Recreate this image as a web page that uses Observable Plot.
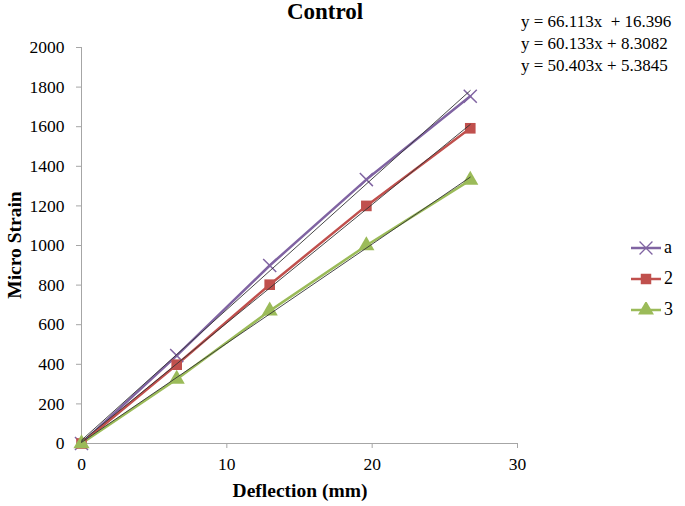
<!DOCTYPE html>
<html>
<head>
<meta charset="utf-8">
<script src="https://cdn.jsdelivr.net/npm/d3@7"></script>
<script src="https://cdn.jsdelivr.net/npm/@observablehq/plot@0.6"></script>
<style>
  html, body { margin: 0; padding: 0; background: #fff; }
  #wrap { position: relative; width: 685px; height: 506px; font-family: "Liberation Serif", "DejaVu Serif", serif; }
  #chart svg, #chart svg text, #chart svg g { font-family: "Liberation Serif", "DejaVu Serif", serif !important; font-size: 17.5px !important; }
  #title { position: absolute; left: 0; width: 650px; top: 0px; line-height: 24px; text-align: center; font-weight: bold; font-size: 23px; }
  #eqs { position: absolute; left: 521px; top: 11px; font-size: 17px; line-height: 22px; white-space: pre; }
  #legend { position: absolute; left: 630px; top: 232px; font-size: 18px; }
  #legend .item { display: flex; align-items: center; height: 31px; }
  #legend svg { margin-right: 2px; }
  #ylabel { position: absolute; left: 15px; top: 245px; transform: translate(-50%, -50%) rotate(-90deg); font-weight: bold; font-size: 19.5px; white-space: nowrap; }
  #xlabel { position: absolute; left: 300px; top: 480px; transform: translateX(-50%); font-weight: bold; font-size: 19.5px; white-space: nowrap; }
</style>
</head>
<body>
<div id="wrap">
  <div id="chart"></div>
  <div id="title"></div>
  <div id="eqs"></div>
  <div id="legend"></div>
  <div id="ylabel"></div>
  <div id="xlabel"></div>
</div>
<script>
const titleText = "Control";
const xLabel = "Deflection (mm)";
const yLabel = "Micro Strain";
const seriesNames = ["a", "2", "3"];
const seriesColors = ["#8064A2", "#C0504D", "#9BBB59"];
const seriesSymbols = ["times", "square", "triangle"];
const deflection = [0, 6.55, 12.95, 19.6, 26.75];
const seriesA = [0, 444, 899, 1333, 1754];
const series2 = [0, 398, 802, 1200, 1592];
const series3 = [0, 325, 670, 1000, 1330];
const equations = ["y = 66.113x  + 16.396", "y = 60.133x + 8.3082", "y = 50.403x + 5.3845"];
const xTicks = [0, 10, 20, 30];
const yTicks = [0, 200, 400, 600, 800, 1000, 1200, 1400, 1600, 1800, 2000];

const allSeries = [seriesA, series2, series3];
const data = [];
allSeries.forEach((vals, i) => vals.forEach((v, j) => data.push({series: seriesNames[i], x: deflection[j], y: v})));

const colorScale = {domain: seriesNames, range: seriesColors};
const symbolScale = {domain: seriesNames, range: seriesSymbols};
const axisGrey = "#a6a6a6";

const chart = Plot.plot({
  width: 685,
  height: 506,
  marginLeft: 81,
  marginRight: 168,
  marginTop: 47,
  marginBottom: 63,
  style: {fontFamily: "'Liberation Serif', 'DejaVu Serif', serif", fontSize: "17.5px", color: "black", background: "white"},
  x: {domain: [0, 30]},
  y: {domain: [0, 2000]},
  color: colorScale,
  symbol: symbolScale,
  marks: [
    Plot.ruleX([0], {stroke: axisGrey, strokeWidth: 1}),
    Plot.ruleY([0], {stroke: axisGrey, strokeWidth: 1}),
    Plot.axisY({ticks: yTicks, tickFormat: d => String(d), tickSize: 5, tickPadding: 12, stroke: axisGrey, fill: "black", label: null, fontVariant: "normal"}),
    Plot.axisX({ticks: xTicks, tickFormat: d => String(d), tickSize: 5, tickPadding: 9, stroke: axisGrey, fill: "black", label: null, fontVariant: "normal"}),
    Plot.line(data, {x: "x", y: "y", z: "series", stroke: "series", strokeWidth: 2.5}),
    Plot.dot(data.filter(d => d.series === "a"), {x: "x", y: "y", symbol: "series", stroke: "series", r: 6, strokeWidth: 1.5}),
    Plot.dot(data.filter(d => d.series !== "a"), {x: "x", y: "y", symbol: "series", fill: "series", r: 6, stroke: "none"}),
    Plot.linearRegressionY(data, {x: "x", y: "y", z: "series", stroke: "#333", strokeWidth: 0.9, ci: 0})
  ]
});
document.getElementById("chart").appendChild(chart);

document.getElementById("title").textContent = titleText;
document.getElementById("xlabel").textContent = xLabel;
document.getElementById("ylabel").textContent = yLabel;
document.getElementById("eqs").textContent = equations.join("\n");

const legend = document.getElementById("legend");
seriesNames.forEach((name, i) => {
  const item = document.createElement("div");
  item.className = "item";
  const sym = d3.symbol(d3["symbol" + seriesSymbols[i][0].toUpperCase() + seriesSymbols[i].slice(1)], 110)();
  const isTimes = seriesSymbols[i] === "times";
  item.innerHTML = `<svg width="32" height="16" viewBox="-16 -8 32 16">
      <line x1="-15" x2="15" y1="0" y2="0" stroke="${seriesColors[i]}" stroke-width="2.5"/>
      <path d="${sym}" ${isTimes ? `fill="none" stroke="${seriesColors[i]}" stroke-width="1.3"` : `fill="${seriesColors[i]}"`}/>
    </svg><span>${name}</span>`;
  legend.appendChild(item);
});
</script>
</body>
</html>
